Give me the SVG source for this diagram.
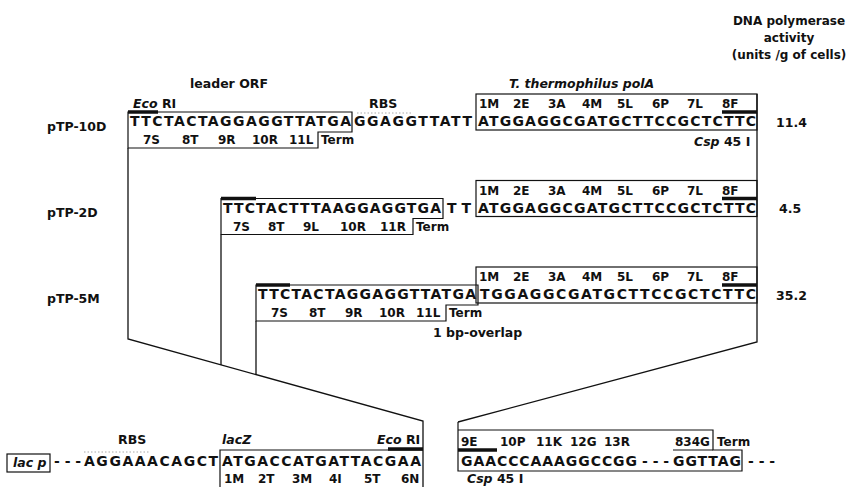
<svg xmlns="http://www.w3.org/2000/svg" width="851" height="487" viewBox="0 0 851 487">
<style>
text{font-family:"DejaVu Sans","Liberation Sans",sans-serif;font-weight:bold;fill:#111}
.seq{font-size:14px}
.aa{font-size:12px}
.lbl{font-size:12.5px}
.hd{font-size:12px}
.it{font-style:italic}
.box{fill:none;stroke:#111;stroke-width:1.2}
.bar{stroke:#111;stroke-width:3.5}
.con{fill:none;stroke:#111;stroke-width:1.3}
.dot{stroke:#aaa;stroke-width:1;stroke-dasharray:1.5 2}
</style>

<g id="header">
<text class="hd" x="789" y="25" text-anchor="middle">DNA polymerase</text>
<text class="hd" x="789" y="42" text-anchor="middle">activity</text>
<text class="hd" x="789" y="59" text-anchor="middle">(units /g of cells)</text>
<text class="lbl" x="190" y="88">leader ORF</text>
<text class="lbl it" x="509" y="88">T. thermophilus polA</text>
</g>

<g id="connectors">
<path class="con" d="M128,148 V339 L423,421 V487"/>
<path class="con" d="M221,234.5 V365"/>
<path class="con" d="M256,321 V374.6"/>
<path class="con" d="M757,94 V342 L458,422"/>
</g>

<g id="pTP-10D">
<text class="lbl" x="47" y="131">pTP-10D</text>
<text class="lbl" x="133" y="108"><tspan class="it">Eco</tspan> RI</text>
<text class="lbl" x="369" y="108">RBS</text>
<path class="box" d="M128,112 H352 V132 H318 V148 H128 Z"/>
<line class="bar" x1="128" y1="112" x2="158" y2="112"/>
<line class="dot" x1="357" y1="113" x2="413" y2="113"/>
<text class="seq" x="130" y="126" textLength="221" lengthAdjust="spacing">TTCTACTAGGAGGTTATGA</text>
<text class="seq" x="354" y="126" textLength="118" lengthAdjust="spacing">GGAGGTTATT</text>
<text class="aa" x="143" y="144">7S</text>
<text class="aa" x="182" y="144">8T</text>
<text class="aa" x="218" y="144">9R</text>
<text class="aa" x="252" y="144">10R</text>
<text class="aa" x="289" y="144">11L</text>
<text class="aa" x="321" y="144">Term</text>
<rect class="box" x="476" y="94" width="281" height="36"/>
<line class="bar" x1="722" y1="112" x2="757" y2="112"/>
<text class="aa" x="479" y="108">1M</text>
<text class="aa" x="513" y="108">2E</text>
<text class="aa" x="548" y="108">3A</text>
<text class="aa" x="582" y="108">4M</text>
<text class="aa" x="617" y="108">5L</text>
<text class="aa" x="652" y="108">6P</text>
<text class="aa" x="687" y="108">7L</text>
<text class="aa" x="722" y="108">8F</text>
<text class="seq" x="478" y="126" textLength="278" lengthAdjust="spacing">ATGGAGGCGATGCTTCCGCTCTTC</text>
<text class="lbl" x="694" y="146"><tspan class="it">Csp</tspan> 45 I</text>
<text class="lbl" x="776" y="127">11.4</text>
</g>

<g id="pTP-2D">
<text class="lbl" x="47" y="217">pTP-2D</text>
<path class="box" d="M221,198.5 H443 V218.5 H413 V234.5 H221 Z"/>
<line class="bar" x1="221" y1="198.5" x2="256" y2="198.5"/>
<text class="seq" x="223" y="212.5" textLength="218" lengthAdjust="spacing">TTCTACTTTAAGGAGGTGA</text>
<text class="seq" x="447" y="212.5" textLength="24" lengthAdjust="spacing">TT</text>
<text class="aa" x="233" y="230.5">7S</text>
<text class="aa" x="268" y="230.5">8T</text>
<text class="aa" x="303" y="230.5">9L</text>
<text class="aa" x="340" y="230.5">10R</text>
<text class="aa" x="380" y="230.5">11R</text>
<text class="aa" x="416" y="230.5">Term</text>
<rect class="box" x="476" y="180.5" width="281" height="36"/>
<line class="bar" x1="722" y1="198.5" x2="757" y2="198.5"/>
<text class="aa" x="479" y="194.5">1M</text>
<text class="aa" x="513" y="194.5">2E</text>
<text class="aa" x="548" y="194.5">3A</text>
<text class="aa" x="582" y="194.5">4M</text>
<text class="aa" x="617" y="194.5">5L</text>
<text class="aa" x="652" y="194.5">6P</text>
<text class="aa" x="687" y="194.5">7L</text>
<text class="aa" x="722" y="194.5">8F</text>
<text class="seq" x="478" y="212.5" textLength="278" lengthAdjust="spacing">ATGGAGGCGATGCTTCCGCTCTTC</text>
<text class="lbl" x="779" y="213">4.5</text>
</g>

<g id="pTP-5M">
<text class="lbl" x="47" y="303">pTP-5M</text>
<path class="box" d="M256,285 H478 V305 H446 V321 H256 Z"/>
<line class="bar" x1="256" y1="285" x2="290" y2="285"/>
<text class="seq" x="258" y="299" textLength="218" lengthAdjust="spacing">TTCTACTAGGAGGTTATGA</text>
<text class="aa" x="271" y="317">7S</text>
<text class="aa" x="309" y="317">8T</text>
<text class="aa" x="345" y="317">9R</text>
<text class="aa" x="379" y="317">10R</text>
<text class="aa" x="416" y="317">11L</text>
<text class="aa" x="449" y="317">Term</text>
<rect class="box" x="476" y="267" width="281" height="36"/>
<line class="bar" x1="722" y1="285" x2="757" y2="285"/>
<text class="aa" x="479" y="281">1M</text>
<text class="aa" x="513" y="281">2E</text>
<text class="aa" x="548" y="281">3A</text>
<text class="aa" x="582" y="281">4M</text>
<text class="aa" x="617" y="281">5L</text>
<text class="aa" x="652" y="281">6P</text>
<text class="aa" x="687" y="281">7L</text>
<text class="aa" x="722" y="281">8F</text>
<text class="seq" x="480" y="299" textLength="276" lengthAdjust="spacing">TGGAGGCGATGCTTCCGCTCTTC</text>
<text class="lbl" x="433" y="337">1 bp-overlap</text>
<text class="lbl" x="776" y="300">35.2</text>
</g>

<g id="lacZ-vector">
<rect class="box" x="7" y="454" width="43" height="18"/>
<text class="lbl it" x="13" y="467">lac p</text>
<text class="seq" x="54" y="466">- - -</text>
<line class="dot" x1="84" y1="452" x2="150" y2="452"/>
<text class="seq" x="84" y="466" textLength="134" lengthAdjust="spacing">AGGAAACAGCT</text>
<text class="lbl" x="118" y="444">RBS</text>
<text class="lbl it" x="222" y="444">lacZ</text>
<text class="lbl" x="377" y="444"><tspan class="it">Eco</tspan> RI</text>
<path class="box" d="M220,487 V450 H423"/>
<line class="bar" x1="388" y1="449" x2="423" y2="449"/>
<text class="seq" x="222" y="466" textLength="199" lengthAdjust="spacing">ATGACCATGATTACGAA</text>
<text class="aa" x="224" y="483">1M</text>
<text class="aa" x="258" y="483">2T</text>
<text class="aa" x="292" y="483">3M</text>
<text class="aa" x="329" y="483">4I</text>
<text class="aa" x="364" y="483">5T</text>
<text class="aa" x="401" y="483">6N</text>
</g>

<g id="polA-end">
<path class="box" d="M458,422 V471 H742 V450 H713 V430 H458"/>
<line class="box" x1="673" y1="450" x2="713" y2="450"/>
<line class="bar" x1="458" y1="450" x2="497" y2="450"/>
<text class="aa" x="461" y="446">9E</text>
<text class="aa" x="500" y="446">10P</text>
<text class="aa" x="536" y="446">11K</text>
<text class="aa" x="570" y="446">12G</text>
<text class="aa" x="604" y="446">13R</text>
<text class="aa" x="675" y="446">834G</text>
<text class="aa" x="717" y="446">Term</text>
<text class="seq" x="461" y="466" textLength="176" lengthAdjust="spacing">GAACCCAAAGGCCGG</text>
<text class="seq" x="642" y="466">- - -</text>
<text class="seq" x="673" y="466" textLength="68" lengthAdjust="spacing">GGTTAG</text>
<text class="seq" x="748" y="466">- - -</text>
<text class="lbl" x="467" y="483"><tspan class="it">Csp</tspan> 45 I</text>
</g>
</svg>
